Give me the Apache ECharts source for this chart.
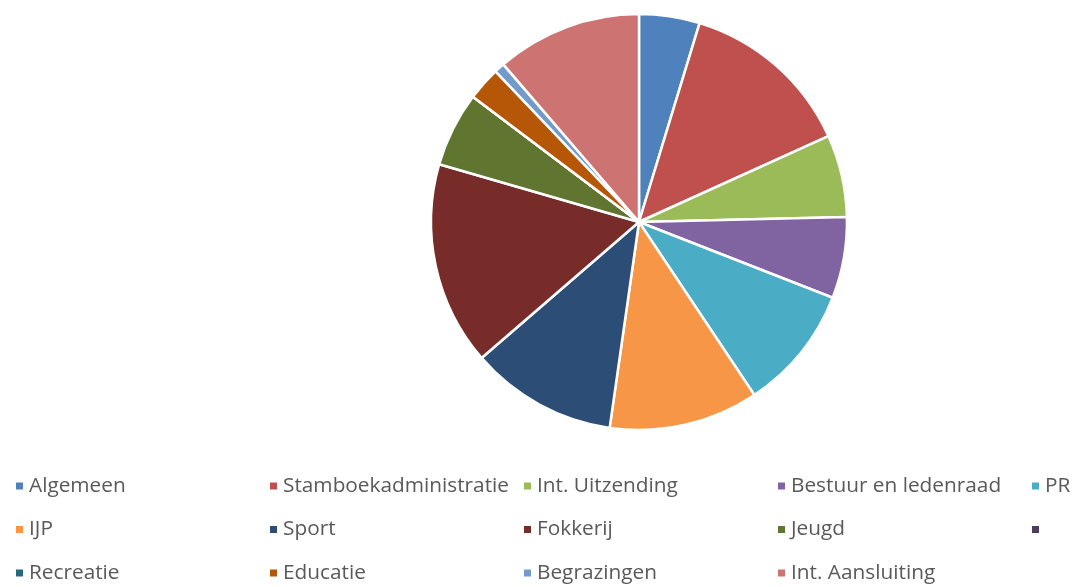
<!DOCTYPE html>
<html>
<head>
<meta charset="utf-8">
<script src="https://cdn.jsdelivr.net/npm/echarts@6/dist/echarts.min.js"></script>
<style>
  html, body { margin: 0; padding: 0; background: #fff; }
  #chart { width: 1077px; height: 587px; }
</style>
</head>
<body>
<div id="chart"></div>
<script>
// categories in drawing order (clockwise from 12 o'clock)
var categories = ['Algemeen', 'Stamboekadministratie', 'Int. Uitzending', 'Bestuur en ledenraad', 'PR',
  'IJP', 'Sport', 'Fokkerij', 'Jeugd', ' ',
  'Recreatie', 'Educatie', 'Begrazingen', 'Int. Aansluiting'];
// share in percent
var values = [4.7, 13.5, 6.4, 6.3, 9.7, 11.6, 11.4, 15.8, 5.8, 0, 0, 2.6, 0.8, 11.3];
var colors = ['#4F81BD', '#C0504D', '#9BBB59', '#8064A2', '#4BACC6', '#F79646', '#2C4D75',
  '#772C2A', '#5F7530', '#4D3B62', '#276A7C', '#B65708', '#729ACA', '#CD7371'];

var chart = echarts.init(document.getElementById('chart'));

// legend laid out like the original: 5 columns x 3 rows
var legends = categories.map(function (name, i) {
  var col = i % 5, row = Math.floor(i / 5);
  return {
    data: [name],
    left: 14 + col * 254,
    top: 474 + row * 43.5,
    icon: 'rect',
    itemWidth: 9,
    itemHeight: 9,
    itemGap: 0,
    padding: 0,
    selectedMode: false,
    textStyle: {
      fontFamily: 'Open Sans',
      fontSize: 20.8,
      color: '#595959',
      padding: [0, 0, 0, 0],
      lineHeight: 24
    }
  };
});

var option = {
  color: colors,
  animation: false,
  legend: legends,
  series: [
    {
      type: 'pie',
      center: [639, 222],
      radius: 208,
      startAngle: 90,
      clockwise: true,
      label: { show: false },
      labelLine: { show: false },
      itemStyle: { borderColor: '#fff', borderWidth: 2.5 },
      emphasis: { disabled: true },
      data: categories.map(function (c, i) {
        return { name: c, value: values[i] };
      })
    }
  ]
};
chart.setOption(option);
</script>
</body>
</html>
